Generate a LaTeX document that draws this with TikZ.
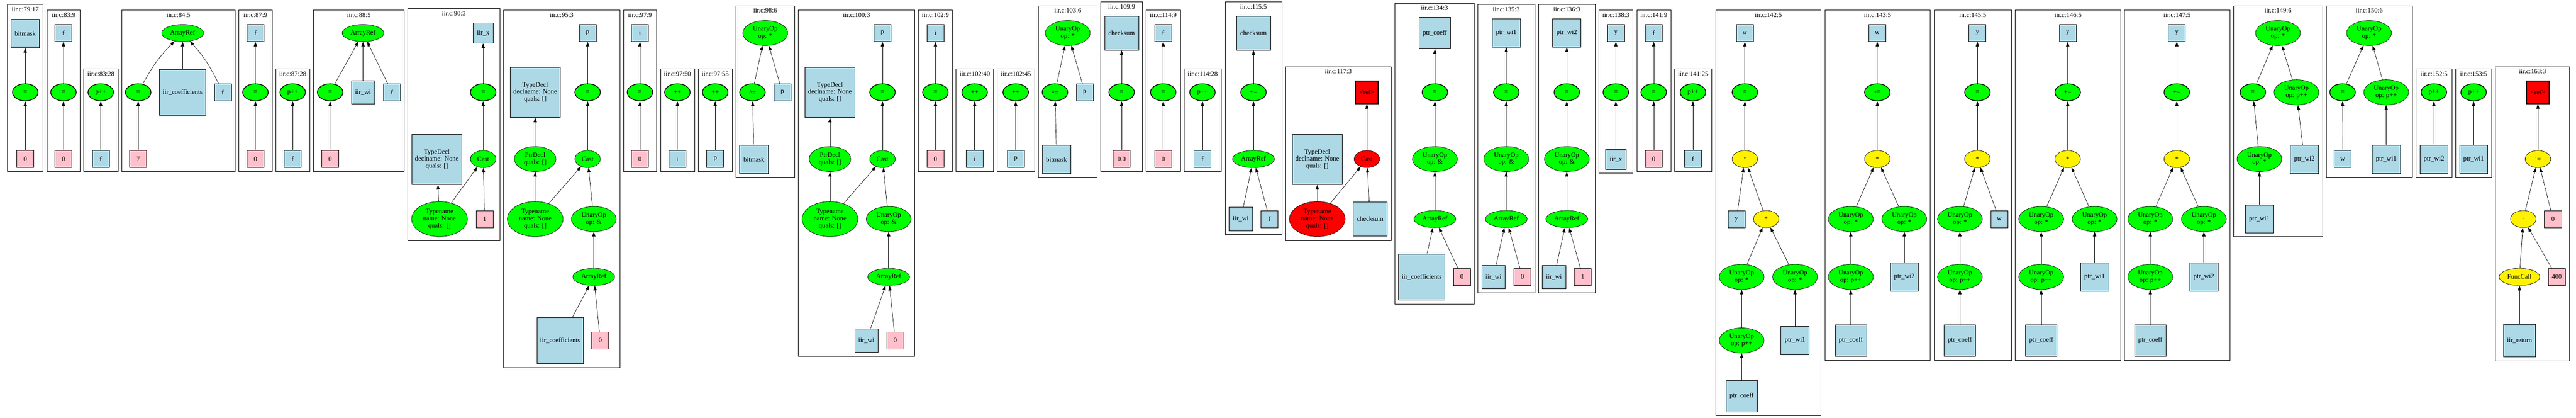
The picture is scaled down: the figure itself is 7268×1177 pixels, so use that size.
\documentclass[tikz,border=0pt]{standalone}
\usepackage{fontspec}
\setmainfont{Liberation Serif}
\usepackage{tikz}
\usetikzlibrary{shapes.geometric,arrows.meta}
\definecolor{lblue}{HTML}{ADD8E6}
\definecolor{lpink}{HTML}{FFC0CB}
\definecolor{lgreen}{HTML}{00FF00}

\begin{document}
\begin{tikzpicture}[x=0.75pt,y=-0.75pt,line width=0.75pt]
\tikzstyle{every node}+=[inner sep=0pt,font=\fontsize{14}{15}\selectfont,align=center]
\tikzstyle{clu}=[draw=black]
\tikzstyle{var}=[draw,fill=lblue,minimum size=36pt]
\tikzstyle{lit}=[draw,fill=lpink,minimum size=36pt]
\tikzstyle{op}=[draw,ellipse,fill=lgreen,minimum width=54pt,minimum height=36pt]
\tikzstyle{asg}=[op,line width=1.5pt]
\tikzstyle{bin}=[draw,ellipse,fill=yellow,minimum width=54pt,minimum height=36pt]
\tikzstyle{ret}=[draw,fill=red,minimum size=48pt,line width=1.5pt]
\tikzstyle{aref}=[op,minimum width=88.5pt]
\tikzstyle{uop}=[op,minimum width=95pt,minimum height=53pt]
\tikzstyle{tname}=[op,minimum width=118pt,minimum height=74pt]
\tikzstyle{pdecl}=[op,minimum width=88pt,minimum height=53pt]
\tikzstyle{tdecl}=[var,minimum size=106.5pt]
\tikzstyle{arr}=[-{Triangle[length=10pt,width=7pt]}]
\useasboundingbox (0,0) rectangle (7268,1177);
\draw [clu] (20.6,12.8) rectangle (121.8,483.5);
\node (t1) at (71.2,27) {iir.c:79:17};
\node [var,minimum size=60.5pt] (n1a) at (71.2,94) {bitmask};
\node [asg] (n1b) at (71.2,260) {=};
\node [lit] (n1c) at (71.2,448) {0};
\draw [arr] (n1c) -- (n1b);
\draw [arr] (n1b) -- (n1a);
\draw [clu] (132.9,28.5) rectangle (225.8,483.5);
\node (t2) at (179.4,42) {iir.c:83:9};
\node [var] (n2a) at (179.1,93) {f};
\node [asg] (n2b) at (179.1,260) {=};
\node [lit] (n2c) at (179.1,448) {0};
\draw [arr] (n2c) -- (n2b);
\draw [arr] (n2b) -- (n2a);
\draw [clu] (236.5,194.5) rectangle (333,483.5);
\node (t3) at (284.8,208) {iir.c:83:28};
\node [asg] (n3a) at (284.3,260) {p++};
\node [var] (n3b) at (284.3,448) {f};
\draw [arr] (n3b) -- (n3a);
\draw [clu] (343.2,28.5) rectangle (663.3,483.5);
\node (t4) at (503.4,42) {iir.c:84:5};
\node [aref] (n4a) at (515.2,93) {ArrayRef};
\node [asg] (n4b) at (389.9,260) {=};
\node [var,minimum size=97.5pt] (n4c) at (515.2,260) {iir\_coefficients};
\node [var] (n4d) at (628.5,260) {f};
\node [lit] (n4e) at (389.9,448) {7};
\draw [arr] (n4b) to[bend left=8] (n4a);
\draw [arr] (n4c) -- (n4a);
\draw [arr] (n4d) to[bend right=8] (n4a);
\draw [arr] (n4e) -- (n4b);
\draw [clu] (673.9,28.5) rectangle (767.3,483.5);
\node (t5) at (720.6,42) {iir.c:87:9};
\node [var] (n5a) at (720.6,93) {f};
\node [asg] (n5b) at (720.6,260) {=};
\node [lit] (n5c) at (720.6,448) {0};
\draw [arr] (n5c) -- (n5b);
\draw [arr] (n5b) -- (n5a);
\draw [clu] (777.9,194.5) rectangle (874,483.5);
\node (t6) at (826,208) {iir.c:87:28};
\node [asg] (n6a) at (825.8,260) {p++};
\node [var] (n6b) at (825.8,448) {f};
\draw [arr] (n6b) -- (n6a);
\draw [clu] (884.7,28.5) rectangle (1140.5,483.5);
\node (t7) at (1012.6,42) {iir.c:88:5};
\node [aref] (n7a) at (1024.3,93) {ArrayRef};
\node [asg] (n7b) at (931.4,260) {=};
\node [var,minimum size=49.5pt] (n7c) at (1024.3,260) {iir\_wi};
\node [var] (n7d) at (1105.7,260) {f};
\node [lit] (n7e) at (931.4,448) {0};
\draw [arr] (n7b) -- (n7a);
\draw [arr] (n7c) -- (n7a);
\draw [arr] (n7d) -- (n7a);
\draw [arr] (n7e) -- (n7b);
\draw [clu] (1150.8,24) rectangle (1410.4,678);
\node (t8) at (1280.6,38) {iir.c:90:3};
\node [var,minimum size=42.75pt] (n8a) at (1363.3,93) {iir\_x};
\node [asg] (n8b) at (1363.3,260) {=};
\node [op] (n8c) at (1363.3,448) {Cast};
\node [tdecl] (n8d) at (1232.5,449) {TypeDecl\\declname: None\\quals: []};
\node [tname] (n8e) at (1240,617) {Typename\\name: None\\quals: []};
\node [lit] (n8f) at (1367.3,617) {1};
\draw [arr] (n8e) -- (n8d);
\draw [arr] (n8e) -- (n8c);
\draw [arr] (n8f) -- (n8c);
\draw [arr] (n8c) -- (n8b);
\draw [arr] (n8b) -- (n8a);
\draw [clu] (1420.2,28.5) rectangle (1748.8,1036);
\node (t9) at (1584.5,42) {iir.c:95:3};
\node [var] (n9a) at (1657.9,93) {p};
\node [asg] (n9b) at (1657.9,260) {=};
\node [op] (n9c) at (1657.9,448) {Cast};
\node [tdecl] (n9d) at (1510,260) {TypeDecl\\declname: None\\quals: []};
\node [pdecl] (n9e) at (1510,448) {PtrDecl\\quals: []};
\node [tname] (n9f) at (1510,617) {Typename\\name: None\\quals: []};
\node [uop] (n9g) at (1675.3,617) {UnaryOp\\op: \&};
\node [aref] (n9h) at (1675.3,780) {ArrayRef};
\node [var,minimum size=97.5pt] (n9i) at (1580.4,959) {iir\_coefficients};
\node [lit] (n9j) at (1693.5,959) {0};
\draw [arr] (n9f) -- (n9e);
\draw [arr] (n9e) -- (n9d);
\draw [arr] (n9f) -- (n9c);
\draw [arr] (n9g) -- (n9c);
\draw [arr] (n9h) -- (n9g);
\draw [arr] (n9i) -- (n9h);
\draw [arr] (n9j) -- (n9h);
\draw [arr] (n9c) -- (n9b);
\draw [arr] (n9b) -- (n9a);
\draw [clu] (1758.7,28.5) rectangle (1852.6,483.5);
\node (t10) at (1805.6,42) {iir.c:97:9};
\node [var] (n10a) at (1805.5,93) {i};
\node [asg] (n10b) at (1805.5,260) {=};
\node [lit] (n10c) at (1805.5,448) {0};
\draw [arr] (n10c) -- (n10b);
\draw [arr] (n10b) -- (n10a);
\draw [clu] (1863.3,194.5) rectangle (1959.3,483.5);
\node (t11) at (1911.3,208) {iir.c:97:50};
\node [asg] (n11a) at (1911.1,260) {++};
\node [var] (n11b) at (1911.1,448) {i};
\draw [arr] (n11b) -- (n11a);
\draw [clu] (1969.6,194.5) rectangle (2066.1,483.5);
\node (t12) at (2017.9,208) {iir.c:97:55};
\node [asg] (n12a) at (2017.9,260) {++};
\node [var] (n12b) at (2017.9,448) {p};
\draw [arr] (n12b) -- (n12a);
\draw [clu] (2076.4,16.5) rectangle (2241.7,499);
\node (t13) at (2159,30) {iir.c:98:6};
\node [uop] (n13a) at (2159,93) {UnaryOp\\op: *};
\node [asg] (n13b) at (2123,260) {\textasciicircum=};
\node [var] (n13c) at (2207.3,260) {p};
\node [var,minimum size=60.5pt] (n13d) at (2127.4,449) {bitmask};
\draw [arr] (n13b) -- (n13a);
\draw [arr] (n13c) -- (n13a);
\draw [arr] (n13d) -- (n13b);
\draw [clu] (2252.4,28.5) rectangle (2580.7,1004);
\node (t14) at (2416.5,42) {iir.c:100:3};
\node [var] (n14a) at (2489.8,93) {p};
\node [asg] (n14b) at (2489.8,260) {=};
\node [op] (n14c) at (2489.8,448) {Cast};
\node [tdecl] (n14d) at (2341.7,260) {TypeDecl\\declname: None\\quals: []};
\node [pdecl] (n14e) at (2341.7,448) {PtrDecl\\quals: []};
\node [tname] (n14f) at (2341.7,617) {Typename\\name: None\\quals: []};
\node [uop] (n14g) at (2507.2,617) {UnaryOp\\op: \&};
\node [aref] (n14h) at (2507.2,780) {ArrayRef};
\node [var,minimum size=49.5pt] (n14i) at (2444.3,959) {iir\_wi};
\node [lit] (n14j) at (2525.7,959) {0};
\draw [arr] (n14f) -- (n14e);
\draw [arr] (n14e) -- (n14d);
\draw [arr] (n14f) -- (n14c);
\draw [arr] (n14g) -- (n14c);
\draw [arr] (n14h) -- (n14g);
\draw [arr] (n14i) -- (n14h);
\draw [arr] (n14j) -- (n14h);
\draw [arr] (n14c) -- (n14b);
\draw [arr] (n14b) -- (n14a);
\draw [clu] (2591.4,28.5) rectangle (2687.1,483.5);
\node (t15) at (2639.2,42) {iir.c:102:9};
\node [var] (n15a) at (2639.2,93) {i};
\node [asg] (n15b) at (2639.2,260) {=};
\node [lit] (n15c) at (2639.2,448) {0};
\draw [arr] (n15c) -- (n15b);
\draw [arr] (n15b) -- (n15a);
\draw [clu] (2697.3,194.5) rectangle (2803.3,483.5);
\node (t16) at (2750.3,208) {iir.c:102:40};
\node [asg] (n16a) at (2749.9,260) {++};
\node [var] (n16b) at (2749.9,448) {i};
\draw [arr] (n16b) -- (n16a);
\draw [clu] (2813.6,194.5) rectangle (2919.2,483.5);
\node (t17) at (2866.4,208) {iir.c:102:45};
\node [asg] (n17a) at (2865.8,260) {++};
\node [var] (n17b) at (2865.8,448) {p};
\draw [arr] (n17b) -- (n17a);
\draw [clu] (2929.9,16.5) rectangle (3095.3,499);
\node (t18) at (3012.6,30) {iir.c:103:6};
\node [uop] (n18a) at (3012.5,93) {UnaryOp\\op: *};
\node [asg] (n18b) at (2976.5,260) {\textasciicircum=};
\node [var] (n18c) at (3060.8,260) {p};
\node [var,minimum size=60.5pt] (n18d) at (2981,449) {bitmask};
\draw [arr] (n18b) -- (n18a);
\draw [arr] (n18c) -- (n18a);
\draw [arr] (n18d) -- (n18b);
\draw [clu] (3106,5.3) rectangle (3223.4,483.5);
\node (t19) at (3164.7,19) {iir.c:109:9};
\node [var,minimum size=71.8pt] (n19a) at (3164.5,93) {checksum};
\node [asg] (n19b) at (3164.5,260) {=};
\node [lit] (n19c) at (3164.5,448) {0.0};
\draw [arr] (n19c) -- (n19b);
\draw [arr] (n19b) -- (n19a);
\draw [clu] (3233.7,28.5) rectangle (3330.2,483.5);
\node (t20) at (3282,42) {iir.c:114:9};
\node [var] (n20a) at (3281.9,93) {f};
\node [asg] (n20b) at (3281.9,260) {=};
\node [lit] (n20c) at (3281.9,448) {0};
\draw [arr] (n20c) -- (n20b);
\draw [arr] (n20b) -- (n20a);
\draw [clu] (3340.4,194.5) rectangle (3446,483.5);
\node (t21) at (3393.2,208) {iir.c:114:28};
\node [asg] (n21a) at (3392.6,260) {p++};
\node [var] (n21b) at (3392.6,448) {f};
\draw [arr] (n21b) -- (n21a);
\draw [clu] (3456.7,5.3) rectangle (3616.8,660.7);
\node (t22) at (3536.8,19) {iir.c:115:5};
\node [var,minimum size=71.8pt] (n22a) at (3536.6,93) {checksum};
\node [asg] (n22b) at (3536.6,260) {+=};
\node [aref] (n22c) at (3536.6,448) {ArrayRef};
\node [var,minimum size=49.5pt] (n22d) at (3500.6,617) {iir\_wi};
\node [var] (n22e) at (3582,617) {f};
\draw [arr] (n22d) -- (n22c);
\draw [arr] (n22e) -- (n22c);
\draw [arr] (n22c) -- (n22b);
\draw [arr] (n22b) -- (n22a);
\draw [clu] (3626.9,187.7) rectangle (3924.6,678);
\node (t23) at (3775.8,201) {iir.c:117:3};
\node [ret] (n23a) at (3856.6,260) {<ret>};
\node [op,fill=red] (n23b) at (3856.6,448) {Cast};
\node [tdecl] (n23c) at (3716.6,449) {TypeDecl\\declname: None\\quals: []};
\node [tname,fill=red] (n23d) at (3716.6,617) {Typename\\name: None\\quals: []};
\node [var,minimum size=71.8pt] (n23e) at (3865.7,617) {checksum};
\draw [arr] (n23d) -- (n23c);
\draw [arr] (n23d) -- (n23b);
\draw [arr] (n23e) -- (n23b);
\draw [arr] (n23b) -- (n23a);
\draw [clu] (3935.3,9) rectangle (4159.1,856.6);
\node (t24) at (4047.2,22.5) {iir.c:134:3};
\node [var,minimum size=66.5pt] (n24a) at (4048.4,93) {ptr\_coeff};
\node [asg] (n24b) at (4048.4,260) {=};
\node [uop] (n24c) at (4048.4,448) {UnaryOp\\op: \&};
\node [aref] (n24d) at (4048.4,617) {ArrayRef};
\node [var,minimum size=97.5pt] (n24e) at (4011.2,780) {iir\_coefficients};
\node [lit] (n24f) at (4124.7,780) {0};
\draw [arr] (n24e) -- (n24d);
\draw [arr] (n24f) -- (n24d);
\draw [arr] (n24d) -- (n24c);
\draw [arr] (n24c) -- (n24b);
\draw [arr] (n24b) -- (n24a);
\draw [clu] (4169.4,12.8) rectangle (4330.1,824.3);
\node (t25) at (4249.8,27) {iir.c:135:3};
\node [var,minimum size=59.6pt] (n25a) at (4249.8,93) {ptr\_wi1};
\node [asg] (n25b) at (4249.8,260) {=};
\node [uop] (n25c) at (4249.8,448) {UnaryOp\\op: \&};
\node [aref] (n25d) at (4249.8,617) {ArrayRef};
\node [var,minimum size=49.5pt] (n25e) at (4213.7,780) {iir\_wi};
\node [lit] (n25f) at (4295.3,780) {0};
\draw [arr] (n25e) -- (n25d);
\draw [arr] (n25f) -- (n25d);
\draw [arr] (n25d) -- (n25c);
\draw [arr] (n25c) -- (n25b);
\draw [arr] (n25b) -- (n25a);
\draw [clu] (4340.8,12.8) rectangle (4500.9,824.3);
\node (t26) at (4420.8,27) {iir.c:136:3};
\node [var,minimum size=59.6pt] (n26a) at (4420.6,93) {ptr\_wi2};
\node [asg] (n26b) at (4420.6,260) {=};
\node [uop] (n26c) at (4420.6,448) {UnaryOp\\op: \&};
\node [aref] (n26d) at (4420.6,617) {ArrayRef};
\node [var,minimum size=49.5pt] (n26e) at (4384.3,780) {iir\_wi};
\node [lit] (n26f) at (4465.7,780) {1};
\draw [arr] (n26e) -- (n26d);
\draw [arr] (n26f) -- (n26d);
\draw [arr] (n26d) -- (n26c);
\draw [arr] (n26c) -- (n26b);
\draw [arr] (n26b) -- (n26a);
\draw [clu] (4511.2,28.5) rectangle (4607.3,488);
\node (t27) at (4559.2,42) {iir.c:138:3};
\node [var] (n27a) at (4559,93) {y};
\node [asg] (n27b) at (4559,260) {=};
\node [var,minimum size=42.75pt] (n27c) at (4559,449) {iir\_x};
\draw [arr] (n27c) -- (n27b);
\draw [arr] (n27b) -- (n27a);
\draw [clu] (4617.9,28.5) rectangle (4714,483.5);
\node (t28) at (4666,42) {iir.c:141:9};
\node [var] (n28a) at (4665.8,93) {f};
\node [asg] (n28b) at (4665.8,260) {=};
\node [lit] (n28c) at (4665.8,448) {0};
\draw [arr] (n28c) -- (n28b);
\draw [arr] (n28b) -- (n28a);
\draw [clu] (4724.3,194.5) rectangle (4830,483.5);
\node (t29) at (4777.2,208) {iir.c:141:25};
\node [asg] (n29a) at (4776.5,260) {p++};
\node [var] (n29b) at (4776.5,448) {f};
\draw [arr] (n29b) -- (n29a);
\draw [clu] (4840.3,28.5) rectangle (5138.1,1171);
\node (t30) at (4989.2,42) {iir.c:142:5};
\node [var] (n30a) at (4923,93) {w};
\node [asg] (n30b) at (4923,260) {=};
\node [bin] (n30c) at (4923,448) {-};
\node [var] (n30d) at (4899.2,617) {y};
\node [bin] (n30e) at (4983.1,617) {*};
\node [uop] (n30f) at (4913.9,780) {UnaryOp\\op: *};
\node [uop] (n30g) at (5064.5,780) {UnaryOp\\op: *};
\node [uop] (n30h) at (4913.9,959) {UnaryOp\\op: p++};
\node [var,minimum size=59.6pt] (n30i) at (5064.5,959) {ptr\_wi1};
\node [var,minimum size=66.5pt] (n30j) at (4913.9,1116) {ptr\_coeff};
\draw [arr] (n30d) -- (n30c);
\draw [arr] (n30e) -- (n30c);
\draw [arr] (n30f) -- (n30e);
\draw [arr] (n30g) -- (n30e);
\draw [arr] (n30h) -- (n30f);
\draw [arr] (n30i) -- (n30g);
\draw [arr] (n30j) -- (n30h);
\draw [arr] (n30c) -- (n30b);
\draw [arr] (n30b) -- (n30a);
\draw [clu] (5148.4,28.5) rectangle (5446.3,1015);
\node (t31) at (5297.4,42) {iir.c:143:5};
\node [var] (n31a) at (5296.6,93) {w};
\node [asg] (n31b) at (5296.6,260) {-=};
\node [bin] (n31c) at (5296.6,448) {*};
\node [uop] (n31d) at (5221.9,617) {UnaryOp\\op: *};
\node [uop] (n31e) at (5372.9,617) {UnaryOp\\op: *};
\node [uop] (n31f) at (5221.9,780) {UnaryOp\\op: p++};
\node [var,minimum size=59.6pt] (n31g) at (5372.9,780) {ptr\_wi2};
\node [var,minimum size=66.5pt] (n31h) at (5221.9,959) {ptr\_coeff};
\draw [arr] (n31d) -- (n31c);
\draw [arr] (n31e) -- (n31c);
\draw [arr] (n31f) -- (n31d);
\draw [arr] (n31g) -- (n31e);
\draw [arr] (n31h) -- (n31f);
\draw [arr] (n31c) -- (n31b);
\draw [arr] (n31b) -- (n31a);
\draw [clu] (5456.9,28.5) rectangle (5675.2,1015);
\node (t32) at (5566,42) {iir.c:145:5};
\node [var] (n32a) at (5579.1,93) {y};
\node [asg] (n32b) at (5579.1,260) {=};
\node [bin] (n32c) at (5579.1,448) {*};
\node [uop] (n32d) at (5529.7,617) {UnaryOp\\op: *};
\node [var] (n32e) at (5640.8,617) {w};
\node [uop] (n32f) at (5529.7,780) {UnaryOp\\op: p++};
\node [var,minimum size=66.5pt] (n32g) at (5529.7,959) {ptr\_coeff};
\draw [arr] (n32d) -- (n32c);
\draw [arr] (n32e) -- (n32c);
\draw [arr] (n32f) -- (n32d);
\draw [arr] (n32g) -- (n32f);
\draw [arr] (n32c) -- (n32b);
\draw [arr] (n32b) -- (n32a);
\draw [clu] (5685.9,28.5) rectangle (5983.2,1015);
\node (t33) at (5834.6,42) {iir.c:146:5};
\node [var] (n33a) at (5833.8,93) {y};
\node [asg] (n33b) at (5833.8,260) {+=};
\node [bin] (n33c) at (5833.8,448) {*};
\node [uop] (n33d) at (5759,617) {UnaryOp\\op: *};
\node [uop] (n33e) at (5909.7,617) {UnaryOp\\op: *};
\node [uop] (n33f) at (5759,780) {UnaryOp\\op: p++};
\node [var,minimum size=59.6pt] (n33g) at (5909.7,780) {ptr\_wi1};
\node [var,minimum size=66.5pt] (n33h) at (5759,959) {ptr\_coeff};
\draw [arr] (n33d) -- (n33c);
\draw [arr] (n33e) -- (n33c);
\draw [arr] (n33f) -- (n33d);
\draw [arr] (n33g) -- (n33e);
\draw [arr] (n33h) -- (n33f);
\draw [arr] (n33c) -- (n33b);
\draw [arr] (n33b) -- (n33a);
\draw [clu] (5993.9,28.5) rectangle (6291,1015);
\node (t34) at (6142.4,42) {iir.c:147:5};
\node [var] (n34a) at (6141.6,93) {y};
\node [asg] (n34b) at (6141.6,260) {+=};
\node [bin] (n34c) at (6141.6,448) {*};
\node [uop] (n34d) at (6066.9,617) {UnaryOp\\op: *};
\node [uop] (n34e) at (6218,617) {UnaryOp\\op: *};
\node [uop] (n34f) at (6066.9,780) {UnaryOp\\op: p++};
\node [var,minimum size=59.6pt] (n34g) at (6218,780) {ptr\_wi2};
\node [var,minimum size=66.5pt] (n34h) at (6066.9,959) {ptr\_coeff};
\draw [arr] (n34d) -- (n34c);
\draw [arr] (n34e) -- (n34c);
\draw [arr] (n34f) -- (n34d);
\draw [arr] (n34g) -- (n34e);
\draw [arr] (n34h) -- (n34f);
\draw [arr] (n34c) -- (n34b);
\draw [arr] (n34b) -- (n34a);
\draw [clu] (6301.2,16.5) rectangle (6552.7,666.7);
\node (t35) at (6427,30) {iir.c:149:6};
\node [uop] (n35a) at (6427,93) {UnaryOp\\op: *};
\node [asg] (n35b) at (6356.3,260) {=};
\node [uop] (n35c) at (6479.2,260) {UnaryOp\\op: p++};
\node [uop] (n35d) at (6374.7,448) {UnaryOp\\op: *};
\node [var,minimum size=59.6pt] (n35e) at (6501.6,449) {ptr\_wi2};
\node [var,minimum size=59.6pt] (n35f) at (6374.7,617) {ptr\_wi1};
\draw [arr] (n35b) -- (n35a);
\draw [arr] (n35c) -- (n35a);
\draw [arr] (n35d) -- (n35b);
\draw [arr] (n35e) -- (n35c);
\draw [arr] (n35f) -- (n35d);
\draw [clu] (6563.3,16.5) rectangle (6806,499);
\node (t36) at (6684.6,30) {iir.c:150:6};
\node [uop] (n36a) at (6684,93) {UnaryOp\\op: *};
\node [asg] (n36b) at (6609.4,260) {=};
\node [uop] (n36c) at (6732.4,260) {UnaryOp\\op: p++};
\node [var] (n36d) at (6609.8,448) {w};
\node [var,minimum size=59.6pt] (n36e) at (6732.4,449) {ptr\_wi1};
\draw [arr] (n36b) -- (n36a);
\draw [arr] (n36c) -- (n36a);
\draw [arr] (n36d) -- (n36b);
\draw [arr] (n36e) -- (n36c);
\draw [clu] (6816.3,194.5) rectangle (6918.3,499);
\node (t37) at (6867.3,208) {iir.c:152:5};
\node [asg] (n37a) at (6867.1,260) {p++};
\node [var,minimum size=59.6pt] (n37b) at (6867.1,449) {ptr\_wi2};
\draw [arr] (n37b) -- (n37a);
\draw [clu] (6928.3,194.5) rectangle (7030.3,499);
\node (t38) at (6979.3,208) {iir.c:153:5};
\node [asg] (n38a) at (6979.1,260) {p++};
\node [var,minimum size=59.6pt] (n38b) at (6979.1,449) {ptr\_wi1};
\draw [arr] (n38b) -- (n38a);
\draw [clu] (7040.2,187.7) rectangle (7250.2,1016);
\node (t39) at (7145.2,201) {iir.c:163:3};
\node [ret] (n39a) at (7160.5,260) {<ret>};
\node [bin] (n39b) at (7160.5,448) {!=};
\node [bin] (n39c) at (7119.2,617) {-};
\node [lit] (n39d) at (7203,617) {0};
\node [bin,minimum width=86pt] (n39e) at (7108.4,780) {FuncCall};
\node [lit] (n39f) at (7213.8,780) {400};
\node [var,minimum size=68pt] (n39g) at (7108.4,959) {iir\_return};
\draw [arr] (n39c) -- (n39b);
\draw [arr] (n39d) -- (n39b);
\draw [arr] (n39e) -- (n39c);
\draw [arr] (n39f) -- (n39c);
\draw [arr] (n39g) -- (n39e);
\draw [arr] (n39b) -- (n39a);
\end{tikzpicture}
\end{document}
